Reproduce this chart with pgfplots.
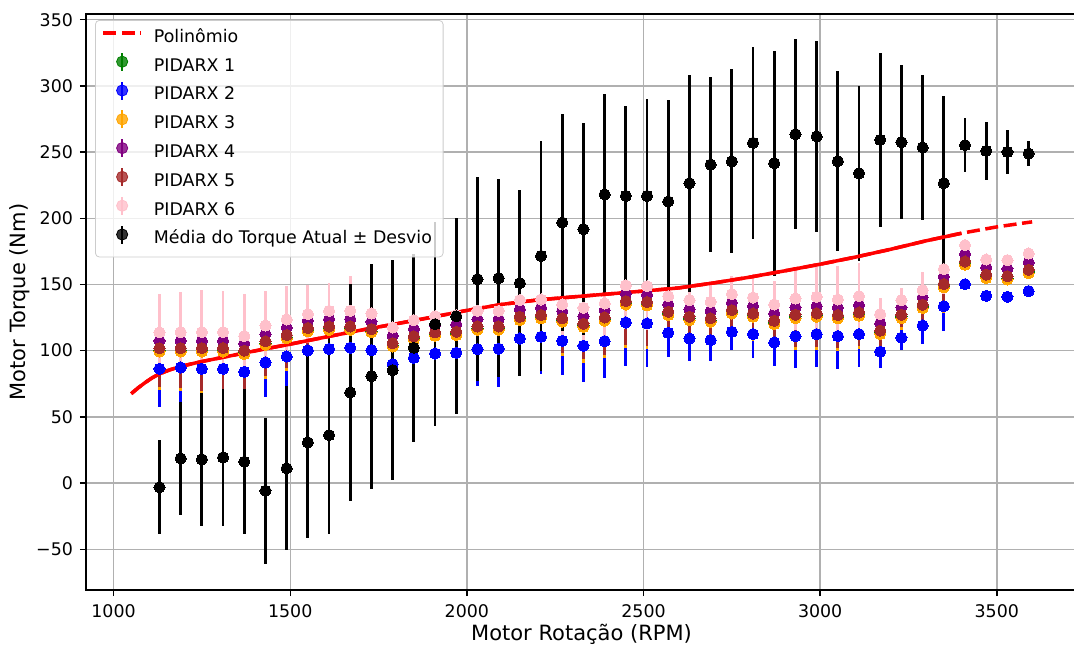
\documentclass[border=0pt]{standalone}
\usepackage{fontspec}
\setmainfont{DejaVu Sans}
\usepackage{pgfplots}
\usepackage{pgfplotstable}
\pgfplotsset{compat=1.18}

\definecolor{mplgreen}{HTML}{008000}
\definecolor{mplorange}{HTML}{FFA500}
\definecolor{mplpurple}{HTML}{800080}
\definecolor{mplbrown}{HTML}{A52A2A}
\definecolor{mplpink}{HTML}{FFC0CB}
\definecolor{gridgray}{HTML}{B0B0B0}

% PIDARX series, e = desvio
\pgfplotstableread{
x    p1    p2    p3    p4    p5    p6    e
1130 100.4 86.3  99.4  107.4 101.9 113.8 29
1190 100.4 87.3  99.4  107.4 101.9 114.0 30
1250 100.4 86.3  99.4  107.4 101.9 114.0 32
1310 100.4 86.3  99.4  107.4 101.9 114.0 31
1370 98.5  84.0  97.5  105.5 100.0 111.0 32
1430 105.5 91.1  104.5 112.5 107.0 119.0 26
1490 110.3 95.6  109.3 117.3 111.8 123.6 25
1550 115.6 100.2 114.6 122.6 117.1 127.6 22
1610 116.7 101.3 115.7 123.7 118.2 130.1 21
1670 116.8 102.2 115.8 123.8 118.3 130.1 26
1730 114.8 100.4 113.8 121.8 116.3 128.1 28
1790 104.2 89.8  103.2 111.2 105.7 117.5 27
1850 109.3 94.6  108.3 116.3 110.8 123.0 27
1910 112.3 97.9  111.3 119.3 113.8 126.0 27
1970 112.8 98.4  111.8 119.8 114.3 126.8 28
2030 116.8 101.2 115.8 123.8 118.3 130.0 28
2090 116.8 101.5 115.8 123.8 118.3 130.0 29
2150 124.1 109.2 123.1 131.1 125.6 138.2 28
2210 125.4 110.5 124.4 132.4 126.9 138.7 28
2270 122.9 107.4 121.9 129.9 124.4 134.9 26
2330 118.9 103.7 117.9 125.9 120.4 132.4 27
2390 123.6 107.2 122.6 130.6 125.1 135.7 28
2450 135.9 121.3 134.9 142.9 137.4 149.3 33
2510 135.2 120.6 134.2 142.2 136.7 148.7 33
2570 127.9 113.5 126.9 134.9 129.4 141.2 18
2630 124.1 109.2 123.1 131.1 125.6 138.2 17
2690 122.9 108.0 121.9 129.9 124.4 136.9 16
2750 129.1 114.2 128.1 136.1 130.6 142.7 14
2810 126.6 112.5 125.6 133.6 128.1 140.2 18
2870 121.1 106.2 120.1 128.1 122.6 134.9 18
2930 125.6 111.0 124.6 132.6 127.1 139.4 24
2990 126.6 112.5 125.6 133.6 128.1 140.7 25
3050 125.4 111.0 124.4 132.4 126.9 138.7 25
3110 127.4 112.5 126.4 134.4 128.9 141.2 25
3170 113.6 99.2  112.6 120.6 115.1 127.6 12
3230 125.6 109.8 124.6 132.6 127.1 138.2 9
3290 133.2 119.0 132.2 140.2 134.7 145.7 14
3350 148.8 133.6 147.8 155.8 150.3 161.6 19
3410 165.9 150.2 164.9 172.9 167.4 179.7 3
3470 155.9 141.4 154.9 162.9 157.4 168.9 1
3530 154.8 140.7 153.8 161.8 156.3 168.4 1
3590 159.6 145.0 158.6 166.6 161.1 173.4 1
}\pidarx

% torque atual: media e desvio
\pgfplotstableread{
x    m     s
1130 -3.2  35.5
1190 18.6  43
1250 17.9  50
1310 19.4  52
1370 16.1  54.6
1430 -5.8  55
1490 11.1  62
1550 30.7  72
1610 36.2  75
1670 68.5  82
1730 80.8  85
1790 85.3  83
1850 102.2 71
1910 120.0 77
1970 126.0 74
2030 154.0 77
2090 154.8 75
2150 151.0 70
2210 171.6 87
2270 196.8 82
2330 191.8 80
2390 218.0 76
2450 216.9 68
2510 216.9 73
2570 212.7 76.5
2630 226.5 82
2690 240.6 66
2750 243.0 69.4
2810 257.0 72.5
2870 241.6 85
2930 263.5 71.7
2990 261.8 72
3050 243.1 68
3110 234.0 66
3170 259.2 66
3230 257.5 58
3290 253.5 54.5
3350 226.5 65.7
3410 255.2 20.4
3470 250.9 22
3530 250.1 16.4
3590 248.9 9.5
}\media

% polinomio
\pgfplotstableread{
x    y
1050 67.5
1070 72.0
1090 76.0
1110 79.6
1130 82.5
1160 85.6
1190 88.0
1220 90.0
1250 91.8
1310 95.0
1370 98.2
1430 101.4
1490 104.4
1550 107.6
1610 110.8
1700 115.5
1800 120.3
1900 125.2
2000 130.4
2100 135.0
2200 138.3
2300 140.6
2400 142.8
2500 145.0
2600 147.4
2700 151.2
2800 155.5
2900 160.3
3000 165.3
3100 170.7
3200 176.6
3300 183.0
3400 188.7
3500 193.5
3600 197.3
}\poli

\pgfplotsset{
  errleg/.style={legend image code/.code={
      \draw[#1, line width=1.3pt] (9.5pt,-2pt) -- (9.5pt,7pt);
      \fill[#1] (9.5pt,2.5pt) circle (2.8pt);}},
  serie/.style={only marks, mark=*, mark size=2.8pt, color=#1,
      mark options={draw=#1, fill=#1, line width=0pt},
      error bars/y dir=both, error bars/y explicit, error bars/error mark=none,
      error bars/error bar style={#1, line width=1.4pt},
      errleg=#1},
}

\begin{document}
\begin{tikzpicture}
\useasboundingbox (-43pt,-27.5pt) rectangle (494pt,295pt);
\begin{axis}[
  at={(0pt,0pt)}, anchor=south west,
  scale only axis, width=495.5pt, height=288pt,
  xmin=922, xmax=3727, ymin=-80.8, ymax=354.3,
  xtick={1000,1500,2000,2500,3000,3500},
  xticklabels={1000,1500,2000,2500,3000,3500},
  ytick={-50,0,50,100,150,200,250,300,350},
  yticklabels={−50,0,50,100,150,200,250,300,350},
  xtick pos=bottom, ytick pos=left,
  tick align=outside, major tick length=3pt,
  tick style={black, line width=0.7pt},
  axis line style={line width=0.7pt},
  grid=major, grid style={gridgray, line width=0.7pt},
  ticklabel style={font=\fontsize{8.7}{10}\selectfont},
  xticklabel style={yshift=-0.6pt},
  every axis x label/.style={at={(axis description cs:0.5,0)}, anchor=center, yshift=-22pt},
  every axis y label/.style={at={(axis description cs:0,0.5)}, xshift=-33pt, rotate=90, anchor=center},
  label style={font=\fontsize{10.5}{12}\selectfont},
  xlabel={Motor Rotação (RPM)},
  ylabel={Motor Torque (Nm)},
  legend cell align=left,
  legend style={at={(axis description cs:0.0091,0.9896)}, anchor=north west,
    draw=black!20, rounded corners=2pt, fill=white, fill opacity=0.8, text opacity=1,
    font=\fontsize{8.7}{10}\selectfont, inner xsep=3pt, inner ysep=2pt,
    column sep=2.9pt, row sep=0pt,
    nodes={text height=6.3pt, text depth=2pt, inner sep=2.6pt}},
]
\addlegendimage{red, line width=1.75pt, legend image code/.code={
    \draw[red, line width=1.75pt, dash pattern=on 6.5pt off 2.8pt] (0pt,2.5pt) -- (19pt,2.5pt);}}
\addlegendentry{Polinômio}

\addplot[serie=mplgreen] table[x=x, y=p1, y error=e] {\pidarx};
\addlegendentry{PIDARX 1}
\addplot[serie=blue] table[x=x, y=p2, y error=e] {\pidarx};
\addlegendentry{PIDARX 2}
\addplot[serie=mplorange] table[x=x, y=p3, y error=e] {\pidarx};
\addlegendentry{PIDARX 3}
\addplot[serie=mplpurple] table[x=x, y=p4, y error=e] {\pidarx};
\addlegendentry{PIDARX 4}
\addplot[serie=mplbrown] table[x=x, y=p5, y error=e] {\pidarx};
\addlegendentry{PIDARX 5}
\addplot[serie=mplpink] table[x=x, y=p6, y error=e] {\pidarx};
\addlegendentry{PIDARX 6}
\addplot[serie=black] table[x=x, y=m, y error=s] {\media};
\addlegendentry{Média do Torque Atual ± Desvio}

\addplot[red, line width=1.75pt, dash pattern=on 6.5pt off 2.8pt, forget plot] table[x=x, y=y] {\poli};
\addplot[red, line width=1.75pt, forget plot, restrict x to domain=1040:3415] table[x=x, y=y] {\poli};
\end{axis}
\end{tikzpicture}
\end{document}
